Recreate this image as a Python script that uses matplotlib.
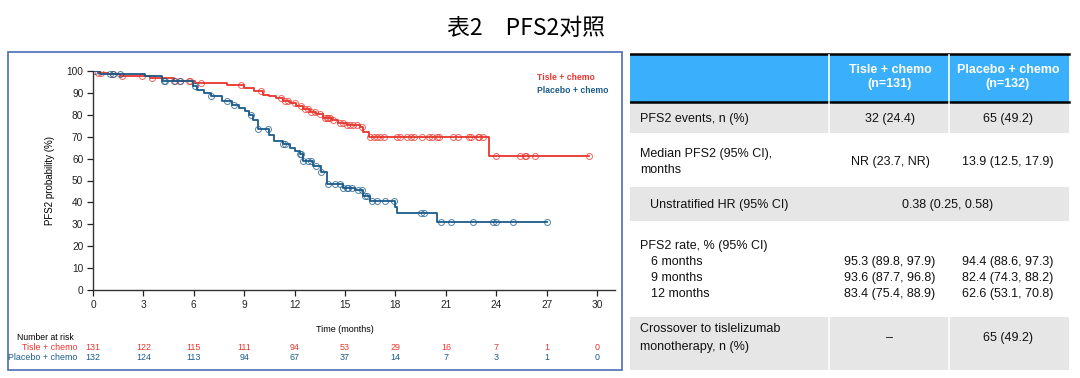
import numpy as np
import matplotlib.pyplot as plt
from matplotlib.patches import Rectangle

plt.rcParams['font.family'] = ['Liberation Sans', 'DejaVu Sans']

# Kaplan-Meier data (months, survival %)
tisle_t = [0.3, 0.9, 1.6, 3.4, 4.8, 6.1, 8.0, 9.0, 9.6, 10.1, 10.5, 10.9, 11.3, 11.7,
           12.1, 12.5, 12.9, 13.3, 13.7, 14.2, 14.6, 15.1, 15.9, 16.1, 16.4, 23.6]
tisle_s = [99.2, 98.5, 97.7, 96.9, 95.6, 94.4, 93.4, 92.4, 90.8, 89.2, 88.4, 87.6, 86.4, 85.2,
           84.0, 82.6, 81.4, 80.2, 78.6, 77.4, 76.2, 75.3, 74.5, 72.3, 69.7, 61.0]
tisle_cens = [0.3, 0.5, 1.2, 1.7, 2.9, 3.5, 4.9, 5.2, 5.7, 5.8, 6.4, 8.8, 10.0, 11.2, 11.4,
              11.6, 12.0, 12.4, 12.6, 12.8, 13.0, 13.2, 13.5, 13.8, 13.9, 14.0, 14.1, 14.3,
              14.7, 14.9, 15.1, 15.3, 15.5, 15.7, 16.0, 16.5, 16.7, 16.9, 17.1, 17.3, 18.1,
              18.3, 18.7, 18.9, 19.1, 19.6, 20.0, 20.2, 20.5, 20.6, 21.4, 21.7, 22.4, 22.5,
              22.9, 23.0, 23.2, 24.0, 25.4, 25.7, 25.8, 26.3, 29.5]

placebo_t = [0.4, 3.1, 4.1, 5.95, 6.2, 6.6, 7.0, 7.7, 8.3, 8.7, 9.05, 9.3, 9.5, 9.8, 10.5,
             10.8, 11.3, 11.7, 12.0, 12.3, 12.5, 13.1, 13.6, 13.9, 14.9, 15.6, 16.1, 16.5,
             18.0, 18.1, 20.5]
placebo_s = [98.6, 97.7, 95.4, 93.0, 91.4, 90.0, 88.4, 86.1, 84.6, 83.2, 81.6, 80.0, 77.8,
             73.3, 71.0, 68.0, 66.5, 65.0, 63.5, 62.0, 59.0, 56.7, 53.8, 48.4, 46.6, 45.6,
             43.0, 40.7, 38.0, 35.3, 31.0]
placebo_cens = [0.1, 1.0, 1.2, 1.6, 4.2, 4.3, 4.8, 5.2, 6.1, 7.0, 8.0, 8.4, 9.4, 9.8, 10.4,
                11.3, 11.4, 12.3, 12.4, 12.5, 12.8, 13.0, 13.3, 13.6, 14.0, 14.4, 14.7, 14.9,
                15.1, 15.2, 15.4, 15.8, 16.0, 16.2, 16.3, 16.6, 16.9, 17.4, 17.9, 19.5, 19.7,
                20.7, 21.3, 22.6, 23.8, 24.0, 25.0, 27.0]

risk_times = [0, 3, 6, 9, 12, 15, 18, 21, 24, 27, 30]
tisle_risk = [131, 122, 115, 111, 94, 53, 29, 16, 7, 1, 0]
placebo_risk = [132, 124, 113, 94, 67, 37, 14, 7, 3, 1, 0]

arms = ["Tisle + chemo", "Placebo + chemo"]
arm_n = ["(n=131)", "(n=132)"]

RED = '#E8362E'
BLUE = '#1A5B8A'

fig = plt.figure(figsize=(10.8, 3.78), dpi=100)

fig.text(526 / 1080, 1 - 28 / 378, "表2　PFS2对照", ha='center', va='center',
         fontsize=16.5, family=['Noto Sans CJK SC', 'DejaVu Sans'])

# panel border
fig.add_artist(Rectangle((8 / 1080, 1 - 370 / 378), 614 / 1080, 318 / 378,
                         transform=fig.transFigure, fill=False, ec='#4A6DB3', lw=1.2))

ax = fig.add_axes([93 / 1080, 1 - 290 / 378, 522 / 1080, 219 / 378])


def km(ax, t, s, cens, color):
    end = max(cens)
    xs = np.r_[0, t, end]
    ys = np.r_[100, s, s[-1]]
    ax.step(xs, ys, where='post', color=color, lw=1.3)
    idx = np.searchsorted(t, cens, side='right')
    cy = np.r_[100, s][idx]
    ax.plot(cens, cy, 'o', mfc='none', mec=color, ms=4.3, mew=0.7, alpha=0.75)


km(ax, tisle_t, tisle_s, tisle_cens, RED)
km(ax, placebo_t, placebo_s, placebo_cens, BLUE)

ax.set_xlim(0, 31.07)
ax.set_ylim(0, 100)
ax.set_xticks(range(0, 31, 3))
ax.set_yticks(range(0, 101, 10))
ax.tick_params(labelsize=7.3, length=4, width=0.9, colors='#222222', pad=3)
ax.spines['top'].set_visible(False)
ax.spines['right'].set_visible(False)
for sp in ['left', 'bottom']:
    ax.spines[sp].set_linewidth(1.0)
    ax.spines[sp].set_color('#333333')
ax.set_ylabel("PFS2 probability (%)", fontsize=7, labelpad=8)

ax.text(0.851, 0.972, arms[0], transform=ax.transAxes, color=RED, fontsize=6.2,
        fontweight='bold', ha='left', va='center')
ax.text(0.851, 0.909, arms[1], transform=ax.transAxes, color=BLUE, fontsize=6.2,
        fontweight='bold', ha='left', va='center')

# x label and number at risk
fig.text(345 / 1080, 1 - 329 / 378, "Time (months)", fontsize=6.5, ha='center', va='center')
fig.text(17 / 1080, 1 - 337 / 378, "Number at risk", fontsize=6.2, ha='left', va='center')
for row, (lab, vals, col) in enumerate([(arms[0], tisle_risk, RED), (arms[1], placebo_risk, BLUE)]):
    yy = 1 - (348 + row * 10) / 378
    fig.text(77 / 1080, yy, lab, fontsize=6.4, color=col, ha='right', va='center')
    for tx, v in zip(risk_times, vals):
        xf = fig.transFigure.inverted().transform(ax.transData.transform((tx, 0)))[0]
        fig.text(xf, yy, str(v), fontsize=6.4, color=col, ha='center', va='center')

# table on the right, in pixel coordinates
tb = fig.add_axes([630 / 1080, 1 - 372 / 378, 442 / 1080, 320 / 378])
tb.set_xlim(630, 1072)
tb.set_ylim(372, 52)
tb.axis('off')

GRAY = '#E6E6E6'
HEAD = '#3AB0FC'
tb.add_patch(Rectangle((630, 54), 439, 48, color=HEAD, lw=0))
for y0, y1, c in [(103, 133, GRAY), (187, 221, GRAY), (317, 370, GRAY)]:
    tb.add_patch(Rectangle((630, y0), 439, y1 - y0, color=c, lw=0))
tb.plot([630, 1069], [54, 54], color='black', lw=1.8)
tb.plot([630, 1069], [102, 102], color='black', lw=1.8)
for xv in [829, 949]:
    for y0, y1 in [(55, 101), (103, 133), (317, 370)]:
        tb.plot([xv, xv], [y0, y1], color='white', lw=1.2)

c1, c2 = 890, 1008
fs = 9
for cx, a, n in [(c1, arms[0], arm_n[0]), (c2, arms[1], arm_n[1])]:
    tb.text(cx, 70, a, color='white', fontweight='bold', fontsize=fs, ha='center', va='center')
    tb.text(cx, 84, n, color='white', fontweight='bold', fontsize=fs, ha='center', va='center')

rows_left = [
    (640, 119, "PFS2 events, n (%)"),
    (640, 154, "Median PFS2 (95% CI),"),
    (640, 170, "months"),
    (650, 205, "Unstratified HR (95% CI)"),
    (640, 246, "PFS2 rate, % (95% CI)"),
    (651, 262, "6 months"),
    (651, 278, "9 months"),
    (651, 294, "12 months"),
    (640, 329, "Crossover to tislelizumab"),
    (640, 347, "monotherapy, n (%)"),
]
for x, y, s in rows_left:
    tb.text(x, y, s, fontsize=fs, ha='left', va='center', color='#111111')

vals = [
    (c1, 119, "32 (24.4)"), (c2, 119, "65 (49.2)"),
    (c1, 162, "NR (23.7, NR)"), (c2, 162, "13.9 (12.5, 17.9)"),
    (948, 205, "0.38 (0.25, 0.58)"),
    (c1, 262, "95.3 (89.8, 97.9)"), (c2, 262, "94.4 (88.6, 97.3)"),
    (c1, 278, "93.6 (87.7, 96.8)"), (c2, 278, "82.4 (74.3, 88.2)"),
    (c1, 294, "83.4 (75.4, 88.9)"), (c2, 294, "62.6 (53.1, 70.8)"),
    (c1, 338, "–"), (c2, 338, "65 (49.2)"),
]
for x, y, s in vals:
    tb.text(x, y, s, fontsize=fs, ha='center', va='center', color='#111111')

fig.savefig('out.png', dpi=100)
